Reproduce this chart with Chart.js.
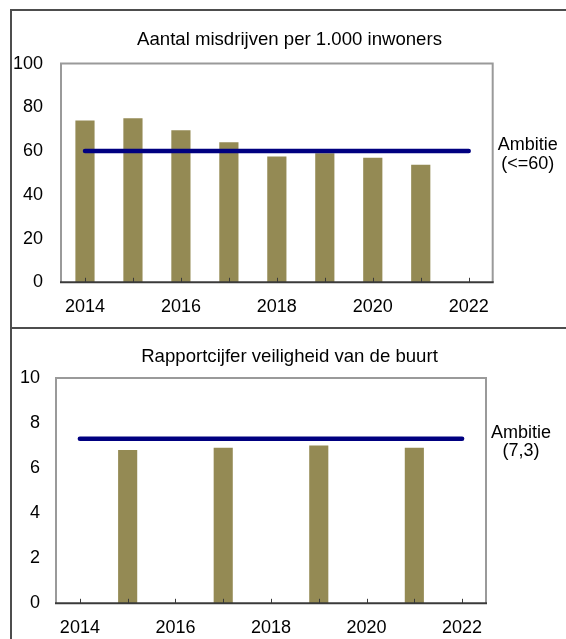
<!DOCTYPE html>
<html>
<head>
<meta charset="utf-8">
<script src="https://cdn.jsdelivr.net/npm/chart.js@4.4.1/dist/chart.umd.min.js"></script>
<style>
  html, body { margin: 0; padding: 0; background: #fff; }
  #wrap { position: relative; width: 566px; height: 639px; overflow: hidden; }
  canvas { position: absolute; left: 0; }
  #c1 { top: 0; }
  #c2 { top: 328px; }
  .box { position: absolute; border: 2px solid #4d4d4d; border-right: none; }
</style>
</head>
<body>
<div id="wrap">
  <div class="box" style="left:10px; top:9px; width:600px; height:316px;"></div>
  <div class="box" style="left:10px; top:327px; width:600px; height:400px; border-bottom:none;"></div>
  <canvas id="c1" width="566" height="328"></canvas>
  <canvas id="c2" width="566" height="311"></canvas>
</div>
<script>
// ---- data ----
const years = ['2014', '2015', '2016', '2017', '2018', '2019', '2020', '2021', '2022'];
const xTickLabels = ['2014', '2016', '2018', '2020', '2022'];

const crimeTitle = 'Aantal misdrijven per 1.000 inwoners';
const crimeValues = [74, 75, 69.5, 64, 57.5, 59, 57, 53.7, null];
const crimeTargetLine = [60, 60, 60, 60, 60, 60, 60, 60, 60];
const crimeTarget = 60;
const crimeTargetLabel = ['Ambitie', '(<=60)'];
const crimeYTicks = [0, 20, 40, 60, 80, 100];

const safetyTitle = 'Rapportcijfer veiligheid van de buurt';
const safetyValues = [null, 6.8, null, 6.9, null, 7.0, null, 6.9, null];
const safetyTargetLine = [7.3, 7.3, 7.3, 7.3, 7.3, 7.3, 7.3, 7.3, 7.3];
const safetyTarget = 7.3;
const safetyTargetLabel = ['Ambitie', '(7,3)'];
const safetyYTicks = [0, 2, 4, 6, 8, 10];

// ---- styling ----
const FONT = "'Liberation Sans', Arial, sans-serif";
Chart.defaults.font.family = FONT;
Chart.defaults.font.size = 18;
Chart.defaults.color = '#000';

const BAR = '#948A54';
const NAVY = '#000080';

const framePlugin = {
  id: 'frame',
  beforeDatasetsDraw(chart) {
    const a = chart.chartArea, ctx = chart.ctx;
    ctx.save();
    ctx.strokeStyle = '#9a9a9a';
    ctx.lineWidth = 2;
    ctx.beginPath();
    ctx.moveTo(a.left, a.bottom);
    ctx.lineTo(a.left, a.top);
    ctx.lineTo(a.right, a.top);
    ctx.lineTo(a.right, a.bottom);
    ctx.stroke();
    ctx.restore();
  },
  afterDatasetsDraw(chart, args, opts) {
    const a = chart.chartArea, ctx = chart.ctx;
    const xs = chart.scales.x, ys = chart.scales.y;
    ctx.save();
    // bottom axis line
    ctx.strokeStyle = '#3a3a3a';
    ctx.lineWidth = 2;
    ctx.beginPath();
    ctx.moveTo(a.left - 1, a.bottom);
    ctx.lineTo(a.right + 1, a.bottom);
    ctx.stroke();
    // inward tick marks at each category
    ctx.lineWidth = 1;
    ctx.beginPath();
    for (let i = 0; i < years.length; i++) {
      const px = Math.round(xs.getPixelForValue(i)) + 0.5;
      ctx.moveTo(px, a.bottom);
      ctx.lineTo(px, a.bottom - 4.5);
    }
    ctx.stroke();
    // target label
    const ly = ys.getPixelForValue(opts.target);
    ctx.fillStyle = '#000';
    ctx.font = '18px ' + FONT;
    ctx.textAlign = 'center';
    ctx.textBaseline = 'middle';
    const cx = a.right + 35;
    ctx.fillText(opts.label[0], cx, ly - 6);
    ctx.fillText(opts.label[1], cx, ly + 12.5);
    ctx.restore();
  }
};

function makeChart(canvas, cfg) {
  return new Chart(canvas, {
    type: 'bar',
    data: {
      labels: years,
      datasets: [
        {
          type: 'line',
          data: cfg.targetLine,
          borderColor: NAVY,
          borderWidth: 4.5,
          borderCapStyle: 'round',
          pointRadius: 0,
          fill: false,
          tension: 0
        },
        {
          type: 'bar',
          data: cfg.values,
          backgroundColor: BAR,
          borderWidth: 0,
          categoryPercentage: 1,
          barPercentage: 0.4
        }
      ]
    },
    plugins: [framePlugin],
    options: {
      responsive: false,
      animation: false,
      layout: { padding: { left: 13, right: 0, top: 0, bottom: 0 } },
      plugins: {
        legend: { display: false },
        tooltip: { enabled: false },
        title: {
          display: true,
          text: cfg.title,
          color: '#000',
          font: { size: 18.6, weight: 'normal', family: FONT },
          padding: { top: cfg.titleTop, bottom: cfg.titleBottom }
        },
        frame: { target: cfg.target, label: cfg.targetLabel }
      },
      scales: {
        x: {
          type: 'category',
          offset: true,
          grid: { display: false, offset: false },
          border: { display: false },
          ticks: {
            autoSkip: false,
            maxRotation: 0,
            padding: 6,
            color: '#000',
            font: { size: 18 },
            callback(v, i) { const l = years[i]; return xTickLabels.includes(l) ? l : ''; }
          },
          afterFit(s) { s.height = cfg.xHeight; }
        },
        y: {
          type: 'linear',
          min: cfg.yTicks[0],
          max: cfg.yTicks[cfg.yTicks.length - 1],
          grid: { display: false, drawTicks: false },
          border: { display: false },
          ticks: {
            stepSize: cfg.yTicks[1] - cfg.yTicks[0],
            padding: cfg.yPad,
            color: '#000',
            font: { size: 18 }
          },
          afterFit(s) { s.width = cfg.yWidth; }
        },
        yR: {
          type: 'linear',
          position: 'right',
          display: true,
          grid: { display: false, drawTicks: false },
          border: { display: false },
          ticks: { display: false },
          afterFit(s) { s.width = cfg.rightWidth; }
        }
      }
    }
  });
}

makeChart(document.getElementById('c1'), {
  title: crimeTitle, values: crimeValues, targetLine: crimeTargetLine,
  target: crimeTarget, targetLabel: crimeTargetLabel, yTicks: crimeYTicks,
  titleTop: 28.8, titleBottom: 12.5, xHeight: 45.7, yWidth: 48, yPad: 18, rightWidth: 73.3
});

makeChart(document.getElementById('c2'), {
  title: safetyTitle, values: safetyValues, targetLine: safetyTargetLine,
  target: safetyTarget, targetLabel: safetyTargetLabel, yTicks: safetyYTicks,
  titleTop: 18.2, titleBottom: 9.4, xHeight: 35.7, yWidth: 43, yPad: 16, rightWidth: 80
});
</script>
</body>
</html>
